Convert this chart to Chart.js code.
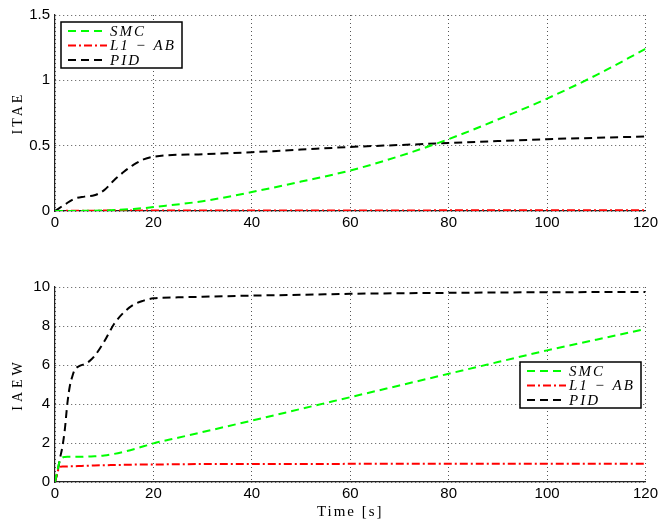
<!DOCTYPE html>
<html><head><meta charset="utf-8">
<script src="https://cdn.jsdelivr.net/npm/chart.js@4.4.1/dist/chart.umd.min.js"></script>
<style>
html,body{margin:0;padding:0;background:#fff;}
#wrap{width:661px;height:525px;position:relative;overflow:hidden;}
canvas{position:absolute;left:0;display:block;}
</style></head><body>
<div id="wrap">
<canvas id="cTop" width="661" height="250" style="top:0"></canvas>
<canvas id="cBot" width="661" height="275" style="top:250px"></canvas>
</div>
<script>
// ---------- DATA ----------
const seriesNames = ['SMC', 'L1 \u2212 AB', 'PID'];
const xTicks = [0, 20, 40, 60, 80, 100, 120];
const itaeTicks = [0, 0.5, 1, 1.5];
const iaewTicks = [0, 2, 4, 6, 8, 10];

// ITAE (top panel)
const tItae      = [0, 2, 4, 6, 8, 10, 12, 14, 16, 18, 20, 30, 40, 50, 60, 70, 80, 90, 100, 110, 120];
const itaeSMC    = [0, 0, 0, 0.001, 0.002, 0.004, 0.007, 0.011, 0.016, 0.022, 0.03, 0.075, 0.145, 0.225, 0.31, 0.42, 0.55, 0.70, 0.86, 1.04, 1.24];
const itaeL1AB   = [0, 0.001, 0.002, 0.002, 0.002, 0.003, 0.003, 0.003, 0.003, 0.003, 0.003, 0.003, 0.004, 0.004, 0.004, 0.004, 0.005, 0.005, 0.005, 0.005, 0.006];
const itaePID    = [0, 0.05, 0.095, 0.11, 0.12, 0.16, 0.235, 0.30, 0.355, 0.395, 0.415, 0.435, 0.45, 0.47, 0.49, 0.505, 0.52, 0.535, 0.55, 0.56, 0.57];

// IAEW (bottom panel)
const tIaew      = [0, 0.5, 1, 1.5, 2, 2.5, 3, 3.5, 4, 5, 6, 7, 8, 10, 12, 14, 16, 18, 20, 25, 30, 40, 50, 60, 70, 80, 90, 100, 110, 120];
const iaewSMC    = [0, 0.6, 1.1, 1.25, 1.28, 1.29, 1.29, 1.29, 1.29, 1.29, 1.3, 1.31, 1.32, 1.36, 1.44, 1.55, 1.68, 1.83, 1.98, 2.27, 2.56, 3.15, 3.75, 4.35, 4.95, 5.55, 6.15, 6.75, 7.3, 7.85];
const iaewL1AB   = [0, 0.5, 0.78, 0.8, 0.8, 0.8, 0.81, 0.81, 0.81, 0.82, 0.83, 0.84, 0.85, 0.86, 0.87, 0.88, 0.89, 0.9, 0.9, 0.91, 0.92, 0.92, 0.92, 0.93, 0.93, 0.93, 0.93, 0.93, 0.93, 0.93];
const iaewPID    = [0, 0.5, 1.2, 1.8, 2.7, 4.0, 4.9, 5.4, 5.75, 5.95, 6.05, 6.2, 6.45, 7.2, 8.1, 8.7, 9.1, 9.3, 9.42, 9.47, 9.5, 9.56, 9.6, 9.65, 9.68, 9.7, 9.72, 9.73, 9.74, 9.75];

// ---------- helpers ----------
function pts(xs, ys) { return xs.map((x, i) => ({ x: x, y: ys[i] })); }
const styles = [
  { borderColor: '#00ff00', borderDash: [8, 5] },
  { borderColor: '#ff0000', borderDash: [8, 3, 2, 3] },
  { borderColor: '#000000', borderDash: [8, 5] }
];
function makeDatasets(t, arrs) {
  return arrs.map((a, i) => Object.assign({
    label: seriesNames[i],
    data: pts(t, a),
    borderWidth: 2,
    pointRadius: 0,
    fill: false,
    cubicInterpolationMode: 'monotone'
  }, styles[i]));
}

const boxLegend = {
  id: 'boxLegend',
  afterDraw(chart, args, o) {
    const ctx = chart.ctx;
    ctx.save();
    ctx.fillStyle = '#fff';
    ctx.fillRect(o.x, o.y, o.w, o.h);
    ctx.strokeStyle = '#000';
    ctx.lineWidth = 1.5;
    ctx.strokeRect(o.x, o.y, o.w, o.h);
    chart.data.datasets.forEach((ds, i) => {
      const ry = o.y + o.rowTop + i * o.rowGap;
      ctx.beginPath();
      ctx.setLineDash(ds.borderDash || []);
      ctx.strokeStyle = ds.borderColor;
      ctx.lineWidth = ds.borderWidth;
      ctx.moveTo(o.x + o.l0, ry);
      ctx.lineTo(o.x + o.l1, ry);
      ctx.stroke();
      ctx.setLineDash([]);
      ctx.fillStyle = '#000';
      ctx.font = 'italic 15px "Liberation Serif", "Times New Roman", serif';
      ctx.textBaseline = 'middle';
      ctx.textAlign = 'left';
      ctx.letterSpacing = '2px';
      ctx.fillText(ds.label, o.x + o.tx, ry + 1);
    });
    ctx.restore();
  }
};

const axisTitles = {
  id: 'axisTitles',
  afterDraw(chart, args, o) {
    const ctx = chart.ctx, ca = chart.chartArea;
    ctx.save();
    ctx.fillStyle = '#000';
    ctx.textAlign = 'center';
    ctx.textBaseline = 'middle';
    ctx.font = '14px "Liberation Serif", "Times New Roman", serif';
    ctx.letterSpacing = o.ySpacing;
    if (o.y) {
      ctx.save();
      ctx.translate(o.yx, (ca.top + ca.bottom) / 2);
      ctx.rotate(-Math.PI / 2);
      ctx.fillText(o.y, 0, 0);
      ctx.restore();
    }
    if (o.x) {
      ctx.font = '15px "Liberation Serif", "Times New Roman", serif';
      ctx.letterSpacing = '2px';
      ctx.fillText(o.x, (ca.left + ca.right) / 2, o.xy);
    }
    ctx.restore();
  }
};

function baseScales(yMin, yMax, yStep, xHeight) {
  const tickFont = { family: '"Liberation Sans", Arial, sans-serif', size: 15 };
  return {
    x: {
      type: 'linear', min: 0, max: 120,
      afterBuildTicks: s => { s.ticks = xTicks.map(v => ({ value: v })); },
      grid: { color: '#555', lineWidth: 1, drawTicks: false },
      border: { display: true, color: '#222', width: 1.2, dash: [1, 3] },
      ticks: { color: '#000', font: tickFont, padding: 3, maxRotation: 0, callback: v => String(+v) },
      afterFit: s => { s.height = xHeight; }
    },
    y: {
      type: 'linear', min: yMin, max: yMax,
      ticks: { stepSize: yStep, color: '#000', font: tickFont, padding: 5, callback: v => String(+v) },
      grid: { color: '#555', lineWidth: 1, drawTicks: false },
      border: { display: true, color: '#222', width: 1.2, dash: [1, 3] },
      afterFit: s => { s.width = 55; }
    }
  };
}

Chart.defaults.animation = false;

new Chart(document.getElementById('cTop'), {
  type: 'line',
  data: { datasets: makeDatasets(tItae, [itaeSMC, itaeL1AB, itaePID]) },
  options: {
    responsive: false,
    devicePixelRatio: 1,
    layout: { padding: { left: 0, right: 13, top: 15, bottom: 0 } },
    scales: baseScales(0, 1.5, 0.5, 39),
    plugins: {
      legend: { display: false },
      tooltip: { enabled: false },
      boxLegend: { x: 61, y: 22, w: 121, h: 46, rowTop: 9, rowGap: 14.5, l0: 7, l1: 46, tx: 49 },
      axisTitles: { y: 'ITAE', yx: 18, ySpacing: '3px' }
    }
  },
  plugins: [boxLegend, axisTitles]
});

new Chart(document.getElementById('cBot'), {
  type: 'line',
  data: { datasets: makeDatasets(tIaew, [iaewSMC, iaewL1AB, iaewPID]) },
  options: {
    responsive: false,
    devicePixelRatio: 1,
    layout: { padding: { left: 0, right: 13, top: 37, bottom: 0 } },
    scales: baseScales(0, 10, 2, 43),
    plugins: {
      legend: { display: false },
      tooltip: { enabled: false },
      boxLegend: { x: 520, y: 112, w: 121, h: 46, rowTop: 9, rowGap: 14.5, l0: 7, l1: 46, tx: 49 },
      axisTitles: { y: 'IAEW', yx: 18, ySpacing: '4px', x: 'Time [s]', xy: 262 }
    }
  },
  plugins: [boxLegend, axisTitles]
});
</script>
</body></html>
